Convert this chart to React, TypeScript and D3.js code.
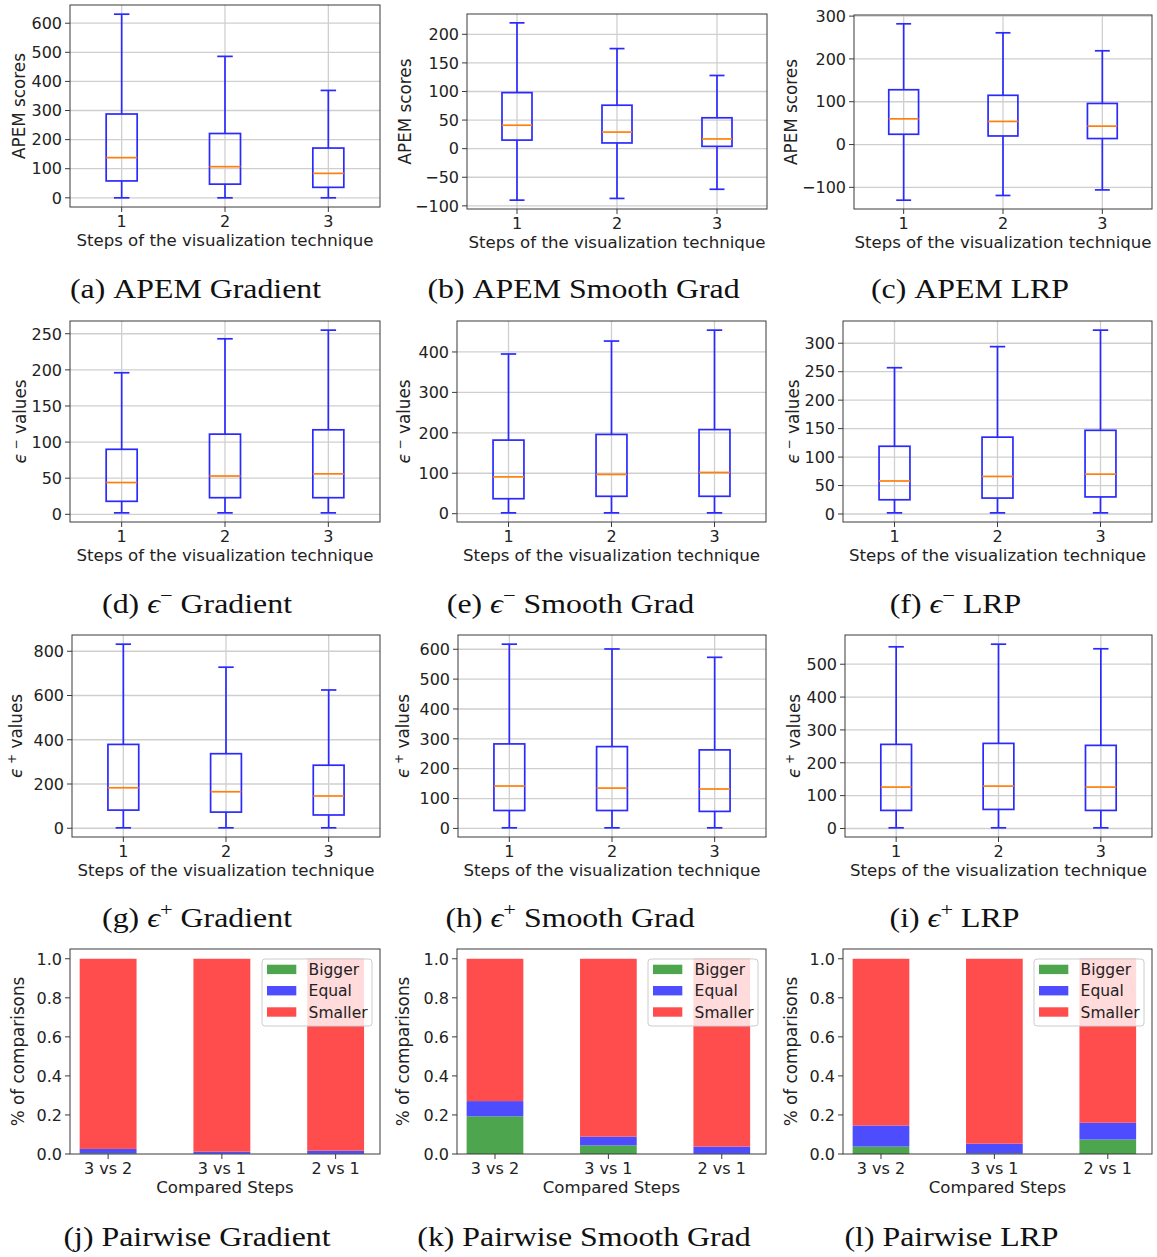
import React from "react";
import * as d3 from "d3";

// ---------- DATA ----------
const steps = [1, 2, 3];
// each entry: [whisker low, q1, median, q3, whisker high]
const apemGradient = [[0, 58, 138, 288, 631], [0, 47, 107, 221, 486], [0, 36, 84, 171, 369]];
const apemSmooth = [[-90, 15, 41, 98, 220], [-87, 10, 29, 76, 175], [-71, 4, 17, 54, 128]];
const apemLrp = [[-130, 24, 60, 128, 282], [-119, 20, 54, 115, 261], [-106, 14, 43, 96, 219]];
const negGradient = [[2, 18, 44, 90, 196], [2, 23, 53, 111, 243], [2, 23, 56, 117, 255]];
const negSmooth = [[2, 37, 91, 182, 395], [2, 43, 97, 196, 427], [2, 43, 102, 208, 454]];
const negLrp = [[2, 25, 58, 119, 257], [2, 28, 66, 135, 294], [2, 30, 70, 147, 323]];
const posGradient = [[2, 82, 183, 379, 832], [2, 73, 165, 337, 728], [2, 60, 146, 285, 625]];
const posSmooth = [[2, 60, 142, 283, 617], [2, 60, 135, 274, 601], [2, 57, 132, 263, 573]];
const posLrp = [[2, 55, 126, 256, 553], [2, 58, 129, 259, 561], [2, 55, 126, 253, 547]];

const ticksApemGrad = [0, 100, 200, 300, 400, 500, 600];
const ticksApemSmooth = [-100, -50, 0, 50, 100, 150, 200];
const ticksApemLrp = [-100, 0, 100, 200, 300];
const ticksNegGrad = [0, 50, 100, 150, 200, 250];
const ticksNegSmooth = [0, 100, 200, 300, 400];
const ticksNegLrp = [0, 50, 100, 150, 200, 250, 300];
const ticksPosGrad = [0, 200, 400, 600, 800];
const ticksPosSmooth = [0, 100, 200, 300, 400, 500, 600];
const ticksPosLrp = [0, 100, 200, 300, 400, 500];

const pairs = ["3 vs 2", "3 vs 1", "2 vs 1"];
const legendLabels = ["Bigger", "Equal", "Smaller"];
const gradBigger = [0.004, 0.001, 0.001];
const gradEqual = [0.022, 0.011, 0.016];
const gradSmaller = [0.974, 0.988, 0.983];
const smoothBigger = [0.193, 0.044, 0.001];
const smoothEqual = [0.078, 0.045, 0.037];
const smoothSmaller = [0.729, 0.911, 0.962];
const lrpBigger = [0.038, 0.003, 0.074];
const lrpEqual = [0.108, 0.05, 0.086];
const lrpSmaller = [0.854, 0.947, 0.84];
const barTicks = [0, 0.2, 0.4, 0.6, 0.8, 1.0];

const captionLetters = ["a", "b", "c", "d", "e", "f", "g", "h", "i", "j", "k", "l"];
const captionTitles = ["Gradient", "Smooth Grad", "LRP"];

// ---------- STYLE ----------
const FONT = "DejaVu Sans";
const GRID = "#cfcfcf";
const SPINE = "#3a3a3a";
const TXT = "#222";
const BLUE = "#2a2aff";
const ORANGE = "#ff7f0e";
const barColors = ["#4da64d", "#4d4dff", "#ff4d4d"];
const TICK_FS = 16;
const LABEL_FS = 16.6;
const YLABEL_FS = 16.8;

const fmt = (v: number) => (v < 0 ? "\u2212" + Math.abs(v) : String(v));

type BoxCfg = {
  data: number[][];
  ticks: number[];
  kind: "apem" | "neg" | "pos";
  x0: number; x1: number; y0: number; y1: number; lx: number;
};

function YLabel({ kind, lx, cy }: { kind: string; lx: number; cy: number }) {
  if (kind === "apem") {
    return (
      <text transform={`translate(${lx},${cy}) rotate(-90)`} dy="0.36em" textAnchor="middle"
        fontFamily={FONT} fontSize={YLABEL_FS} fill={TXT}>APEM scores</text>
    );
  }
  const sup = kind === "neg" ? "\u2212" : "+";
  return (
    <text transform={`translate(${lx + 6},${cy}) rotate(-90)`} textAnchor="middle"
      fontFamily={FONT} fontSize={YLABEL_FS} fill={TXT}>
      <tspan fontStyle="italic">{"\u03f5"}</tspan>
      <tspan dy={-6} fontSize={12}>{" " + sup}</tspan>
      <tspan dy={6}>{"  values"}</tspan>
    </text>
  );
}

function BoxPanel({ c }: { c: BoxCfg }) {
  const { data, ticks, kind, x0, x1, y0, y1, lx } = c;
  const x = d3.scaleLinear().domain([0.5, 3.5]).range([x0, x1]);
  const lo = d3.min(data, (d) => d[0]) as number;
  const hi = d3.max(data, (d) => d[4]) as number;
  const pad = (hi - lo) * 0.05;
  const y = d3.scaleLinear().domain([lo - pad, hi + pad]).range([y1, y0]);
  const bw = 0.3;
  const cw = 0.15;
  return (
    <g>
      {steps.map((s) => (
        <line key={"gx" + s} x1={x(s)} x2={x(s)} y1={y0} y2={y1} stroke={GRID} strokeWidth={1.3} />
      ))}
      {ticks.map((t) => (
        <line key={"gy" + t} x1={x0} x2={x1} y1={y(t)} y2={y(t)} stroke={GRID} strokeWidth={1.3} />
      ))}
      {data.map((d, i) => {
        const cx = x(steps[i]);
        const l = x(steps[i] - bw / 2), r = x(steps[i] + bw / 2);
        const cl = x(steps[i] - cw / 2), cr = x(steps[i] + cw / 2);
        return (
          <g key={"b" + i} stroke={BLUE} strokeWidth={1.7} fill="none">
            <rect x={l} y={y(d[3])} width={r - l} height={y(d[1]) - y(d[3])} />
            <line x1={cx} x2={cx} y1={y(d[3])} y2={y(d[4])} />
            <line x1={cx} x2={cx} y1={y(d[1])} y2={y(d[0])} />
            <line x1={cl} x2={cr} y1={y(d[4])} y2={y(d[4])} />
            <line x1={cl} x2={cr} y1={y(d[0])} y2={y(d[0])} />
            <line x1={l} x2={r} y1={y(d[2])} y2={y(d[2])} stroke={ORANGE} />
          </g>
        );
      })}
      <rect x={x0} y={y0} width={x1 - x0} height={y1 - y0} fill="none" stroke={SPINE} strokeWidth={1} />
      {ticks.map((t) => (
        <g key={"ty" + t}>
          <line x1={x0 - 5} x2={x0} y1={y(t)} y2={y(t)} stroke={SPINE} strokeWidth={1} />
          <text x={x0 - 8} y={y(t)} dy="0.36em" textAnchor="end" fontFamily={FONT} fontSize={TICK_FS} fill={TXT}>
            {fmt(t)}
          </text>
        </g>
      ))}
      {steps.map((s) => (
        <g key={"tx" + s}>
          <line x1={x(s)} x2={x(s)} y1={y1} y2={y1 + 5} stroke={SPINE} strokeWidth={1} />
          <text x={x(s)} y={y1 + 19.5} textAnchor="middle" fontFamily={FONT} fontSize={TICK_FS} fill={TXT}>
            {String(s)}
          </text>
        </g>
      ))}
      <text x={(x0 + x1) / 2} y={y1 + 38.5} textAnchor="middle" fontFamily={FONT} fontSize={LABEL_FS} fill={TXT}>
        Steps of the visualization technique
      </text>
      <YLabel kind={kind} lx={lx} cy={(y0 + y1) / 2} />
    </g>
  );
}

type BarCfg = {
  bigger: number[]; equal: number[]; smaller: number[];
  x0: number; x1: number; y0: number; y1: number; lx: number;
};

function BarPanel({ c }: { c: BarCfg }) {
  const { bigger, equal, smaller, x0, x1, y0, y1, lx } = c;
  const rows = pairs.map((p, i) => ({ pair: p, Bigger: bigger[i], Equal: equal[i], Smaller: smaller[i] }));
  const series = d3.stack<any>().keys(legendLabels)(rows);
  const x = d3.scaleLinear().domain([-0.335, 2.39]).range([x0, x1]);
  const y = d3.scaleLinear().domain([0, 1.05]).range([y1, y0]);
  const bw = 0.5;
  const lgW = 110, lgH = 67;
  const lgX = x1 - 8 - lgW, lgY = y0 + 10;
  return (
    <g>
      {series.map((s, si) => (
        <g key={"s" + si} fill={barColors[si]}>
          {s.map((d, i) => (
            <rect key={i} x={x(i - bw / 2)} width={x(i + bw / 2) - x(i - bw / 2)}
              y={y(d[1])} height={Math.max(0, y(d[0]) - y(d[1]))} />
          ))}
        </g>
      ))}
      <rect x={x0} y={y0} width={x1 - x0} height={y1 - y0} fill="none" stroke={SPINE} strokeWidth={1} />
      {barTicks.map((t) => (
        <g key={"ty" + t}>
          <line x1={x0 - 5} x2={x0} y1={y(t)} y2={y(t)} stroke={SPINE} strokeWidth={1} />
          <text x={x0 - 8} y={y(t)} dy="0.36em" textAnchor="end" fontFamily={FONT} fontSize={TICK_FS} fill={TXT}>
            {t.toFixed(1)}
          </text>
        </g>
      ))}
      {pairs.map((p, i) => (
        <g key={"tx" + i}>
          <line x1={x(i)} x2={x(i)} y1={y1} y2={y1 + 5} stroke={SPINE} strokeWidth={1} />
          <text x={x(i)} y={y1 + 19.5} textAnchor="middle" fontFamily={FONT} fontSize={TICK_FS} fill={TXT}>
            {p}
          </text>
        </g>
      ))}
      <text x={(x0 + x1) / 2} y={y1 + 38.5} textAnchor="middle" fontFamily={FONT} fontSize={LABEL_FS} fill={TXT}>
        Compared Steps
      </text>
      <text transform={`translate(${lx},${(y0 + y1) / 2}) rotate(-90)`} dy="0.36em" textAnchor="middle"
        fontFamily={FONT} fontSize={YLABEL_FS} fill={TXT}>% of comparisons</text>
      <rect x={lgX} y={lgY} width={lgW} height={lgH} rx={3} fill="#fff" fillOpacity={0.8} stroke="#cccccc" strokeWidth={1} />
      {legendLabels.map((l, i) => (
        <g key={"lg" + i}>
          <rect x={lgX + 5} y={lgY + 10.4 + i * 21.3 - 4.7} width={29.3} height={9.4} fill={barColors[i]} />
          <text x={lgX + 46.6} y={lgY + 10.4 + i * 21.3} dy="0.36em" fontFamily={FONT} fontSize={15.5} fill={TXT}>
            {l}
          </text>
        </g>
      ))}
    </g>
  );
}

function Caption({ cx, by, letter, prefix, sup, title }: any) {
  return (
    <text transform={`translate(${cx},${by}) scale(1.18,1)`} textAnchor="middle"
      fontFamily="Liberation Serif" fontSize={27} fill="#111">
      <tspan>{`(${letter}) `}</tspan>
      {prefix === "eps" ? (
        <>
          <tspan fontStyle="italic">{"\u03f5"}</tspan>
          <tspan dy={-11} fontSize={19}>{sup}</tspan>
          <tspan dy={11}>{" " + title}</tspan>
        </>
      ) : (
        <tspan>{prefix + " " + title}</tspan>
      )}
    </text>
  );
}

// ---------- LAYOUT ----------
const boxCfgs: BoxCfg[] = [
  { data: apemGradient, ticks: ticksApemGrad, kind: "apem", x0: 70, x1: 380, y0: 5, y1: 207, lx: 19 },
  { data: apemSmooth, ticks: ticksApemSmooth, kind: "apem", x0: 467, x1: 767, y0: 14, y1: 209, lx: 404.5 },
  { data: apemLrp, ticks: ticksApemLrp, kind: "apem", x0: 854, x1: 1152, y0: 15, y1: 209, lx: 791 },
  { data: negGradient, ticks: ticksNegGrad, kind: "neg", x0: 70, x1: 380, y0: 321, y1: 522, lx: 19.5 },
  { data: negSmooth, ticks: ticksNegSmooth, kind: "neg", x0: 457, x1: 766, y0: 321, y1: 522, lx: 404 },
  { data: negLrp, ticks: ticksNegLrp, kind: "neg", x0: 843, x1: 1152, y0: 321, y1: 522, lx: 792.5 },
  { data: posGradient, ticks: ticksPosGrad, kind: "pos", x0: 72, x1: 380, y0: 635, y1: 837, lx: 15.5 },
  { data: posSmooth, ticks: ticksPosSmooth, kind: "pos", x0: 458, x1: 766, y0: 635, y1: 837, lx: 403.3 },
  { data: posLrp, ticks: ticksPosLrp, kind: "pos", x0: 845, x1: 1152, y0: 635, y1: 837, lx: 794 },
];

const barCfgs: BarCfg[] = [
  { bigger: gradBigger, equal: gradEqual, smaller: gradSmaller, x0: 70, x1: 380, y0: 949, y1: 1154, lx: 18 },
  { bigger: smoothBigger, equal: smoothEqual, smaller: smoothSmaller, x0: 457, x1: 766, y0: 949, y1: 1154, lx: 403 },
  { bigger: lrpBigger, equal: lrpEqual, smaller: lrpSmaller, x0: 843, x1: 1152, y0: 949, y1: 1154, lx: 790.5 },
];

const captionPos = [
  [195.5, 298], [583.5, 298], [970, 298],
  [197, 613], [570.5, 613], [955.5, 613],
  [197, 927], [570, 927], [954.5, 927],
  [197, 1246], [584, 1246], [951.5, 1246],
];
const rowPrefix = [
  { prefix: "APEM", sup: "" },
  { prefix: "eps", sup: "\u2212" },
  { prefix: "eps", sup: "+" },
  { prefix: "Pairwise", sup: "" },
];

export default function App() {
  return (
    <svg width={1157} height={1257} style={{ position: "absolute", left: 0, top: 0, background: "#fff" }}>
      <rect width={1157} height={1257} fill="#fff" />
      {boxCfgs.map((c, i) => <BoxPanel key={"bp" + i} c={c} />)}
      {barCfgs.map((c, i) => <BarPanel key={"br" + i} c={c} />)}
      {captionLetters.map((l, i) => {
        const row = Math.floor(i / 3), col = i % 3;
        return (
          <Caption key={"cap" + i} cx={captionPos[i][0]} by={captionPos[i][1]} letter={l}
            prefix={rowPrefix[row].prefix} sup={rowPrefix[row].sup} title={captionTitles[col]} />
        );
      })}
    </svg>
  );
}
